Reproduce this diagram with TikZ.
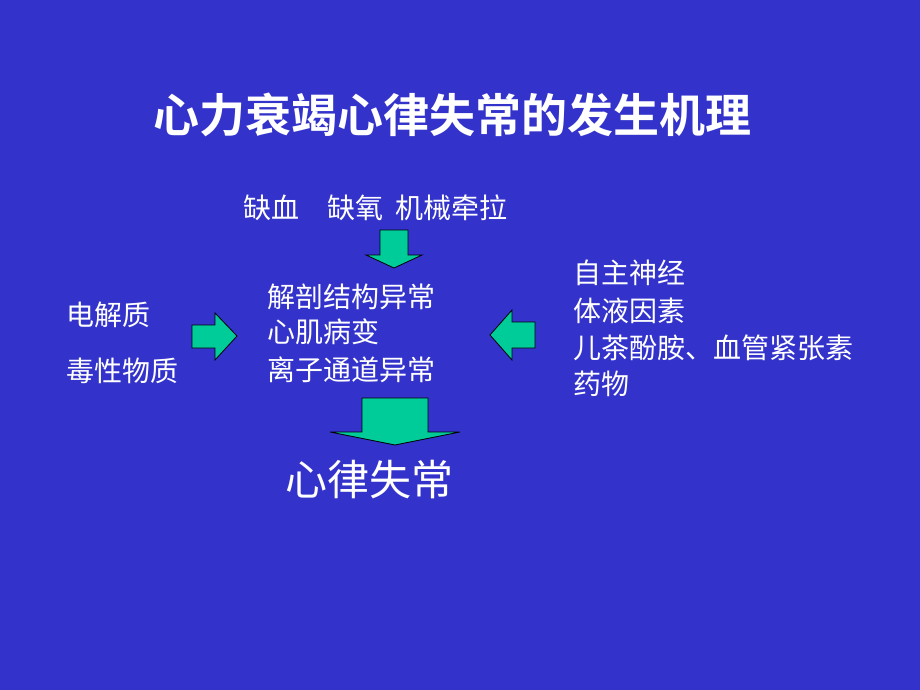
\documentclass[tikz,border=0pt]{standalone}
\usepackage{fontspec}
\newfontfamily\cjk{Noto Sans CJK SC}
\newfontfamily\cjkb{Noto Sans CJK SC Bold}
\definecolor{bgblue}{RGB}{51,51,204}
\definecolor{arrowfill}{RGB}{0,204,153}
\tikzset{
  txt/.style={anchor=west, text=white, font=\cjk\fontsize{28}{32}\selectfont, inner sep=0pt},
  blockarrow/.style={fill=arrowfill, draw=black, line width=0.8pt}
}
\begin{document}
\begin{tikzpicture}[x=1pt, y=-1pt]
\fill[bgblue] (0,0) rectangle (920,690);
\useasboundingbox (0,0) rectangle (920,690);

\node[text=white, font=\cjkb\fontsize{46}{50}\selectfont, inner sep=0pt] (title) at (452,115) {心力衰竭心律失常的发生机理};

\node[txt] (cause) at (243,208) {缺血\quad 缺氧\ \ 机械牵拉};
\node[txt] (c1) at (267,297) {解剖结构异常};
\node[txt] (c2) at (267,332) {心肌病变};
\node[txt] (c3) at (267,370) {离子通道异常};
\node[txt] (l1) at (66,315) {电解质};
\node[txt] (l2) at (66,371) {毒性物质};
\node[txt] (r1) at (573,273) {自主神经};
\node[txt] (r2) at (573,311) {体液因素};
\node[txt] (r3) at (573,348) {儿茶酚胺、血管紧张素};
\node[txt] (r4) at (573,384) {药物};
\node[txt, font=\cjk\fontsize{42}{46}\selectfont] (result) at (285,480) {心律失常};

% arrows
\draw[blockarrow] (380,230) -- (408,230) -- (408,255) -- (422,255) -- (394,268) -- (366,255) -- (380,255) -- cycle;
\draw[blockarrow] (192,325) -- (215,325) -- (215,313) -- (237,336) -- (215,360) -- (215,348) -- (192,348) -- cycle;
\draw[blockarrow] (535,322) -- (512,322) -- (512,310) -- (490,335) -- (512,360) -- (512,348) -- (535,348) -- cycle;
\draw[blockarrow] (362,398) -- (428,398) -- (428,432) -- (460,432) -- (395,445) -- (330,432) -- (362,432) -- cycle;
\end{tikzpicture}
\end{document}
